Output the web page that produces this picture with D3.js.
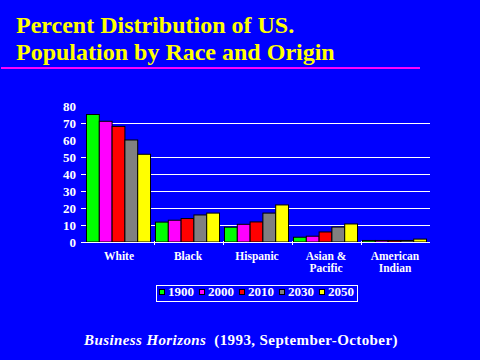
<!DOCTYPE html>
<html>
<head>
<meta charset="utf-8">
<script src="https://cdn.jsdelivr.net/npm/d3@7"></script>
<style>
  body { margin: 0; background: #0000ff; }
  svg { display: block; }
  text { font-family: "Liberation Serif", "Times New Roman", serif; font-weight: bold; }
</style>
</head>
<body>
<div id="chart"></div>
<script>
// data
var categories = ["White", "Black", "Hispanic", "Asian & Pacific", "American Indian"];
var catLines = [["White"], ["Black"], ["Hispanic"], ["Asian &", "Pacific"], ["American", "Indian"]];
var years = ["1900", "2000", "2010", "2030", "2050"];
var colors = ["#00ff00", "#ff00ff", "#ff0000", "#808080", "#ffff00"];
var v1900 = [75, 11.7, 8.7, 2.8, 0.9];
var v2000 = [71, 12.8, 10.4, 3.4, 0.9];
var v2010 = [68, 13.8, 11.8, 5.9, 0.9];
var v2030 = [60, 15.9, 17, 8.8, 0.9];
var v2050 = [51.6, 17, 21.8, 10.6, 1.7];
var series = [v1900, v2000, v2010, v2030, v2050];
var yTicks = [0, 10, 20, 30, 40, 50, 60, 70, 80];
var gridValues = [10, 20, 30, 40, 50, 70];

var width = 480, height = 360;
var svg = d3.select("#chart").append("svg")
  .attr("width", width).attr("height", height);

svg.append("rect").attr("width", width).attr("height", height).attr("fill", "#0000ff");

// title
var title = svg.append("text")
  .attr("x", 16).attr("fill", "#ffff00")
  .style("font-size", "24px");
title.append("tspan").attr("x", 16).attr("y", 33).text("Percent Distribution of US.");
title.append("tspan").attr("x", 16).attr("y", 60).text("Population by Race and Origin");

svg.append("rect")
  .attr("x", 1).attr("y", 67).attr("width", 419).attr("height", 2)
  .attr("fill", "#ff00ff");

// scales
var x0 = d3.scaleBand().domain(categories).range([84.5, 429.5]);
var x1 = d3.scaleBand().domain(years).range([2, x0.bandwidth() - 3]);
var y = d3.scaleLinear().domain([0, 80]).range([242, 106]);

// gridlines
svg.append("g").selectAll("line").data(gridValues).join("line")
  .attr("x1", 81).attr("x2", 430)
  .attr("y1", d => Math.round(y(d)) + 0.5).attr("y2", d => Math.round(y(d)) + 0.5)
  .attr("stroke", "#ffffff").attr("stroke-width", 1);

// y axis labels
var yAxis = svg.append("g")
  .attr("transform", "translate(81,0)")
  .call(d3.axisLeft(y).tickValues(yTicks).tickSize(0).tickPadding(5));
yAxis.select(".domain").remove();
yAxis.selectAll("text")
  .attr("fill", "#ffffff")
  .style("font-size", "13px")
  .style("font-family", "'Liberation Serif', serif")
  .style("font-weight", "bold");

// bars
var groups = svg.append("g").selectAll("g").data(categories).join("g")
  .attr("transform", d => "translate(" + x0(d) + ",0)");
groups.selectAll("rect")
  .data((d, i) => years.map((yr, j) => ({ yr: yr, v: series[j][i], c: colors[j] })))
  .join("rect")
  .attr("x", d => x1(d.yr))
  .attr("y", d => y(d.v))
  .attr("width", x1.bandwidth())
  .attr("height", d => y(0) - y(d.v))
  .attr("fill", d => d.c)
  .attr("stroke", "#000000")
  .attr("stroke-width", 1);

// baseline + category ticks
svg.append("line")
  .attr("x1", 81).attr("x2", 430).attr("y1", 242.5).attr("y2", 242.5)
  .attr("stroke", "#ffffff");
svg.append("g").selectAll("line").data(categories.slice(1)).join("line")
  .attr("x1", d => Math.round(x0(d)) + 0.5).attr("x2", d => Math.round(x0(d)) + 0.5)
  .attr("y1", 241).attr("y2", 245)
  .attr("stroke", "#ffffff");

// category labels
var catText = svg.append("g").selectAll("text").data(categories).join("text")
  .attr("text-anchor", "middle")
  .attr("fill", "#ffffff")
  .style("font-size", "11.5px");
catText.each(function (d, i) {
  var t = d3.select(this);
  var cx = x0(d) + x0.bandwidth() / 2;
  catLines[i].forEach((ln, k) => {
    t.append("tspan").attr("x", cx).attr("y", 260 + k * 12).text(ln);
  });
});

// legend
var legend = svg.append("g");
legend.append("rect")
  .attr("x", 156.5).attr("y", 285.5).attr("width", 201).attr("height", 16)
  .attr("fill", "none").attr("stroke", "#ffffff");
var legItems = legend.selectAll("g").data(years).join("g")
  .attr("transform", (d, i) => "translate(" + (159.5 + i * 40) + ",0)");
legItems.append("rect")
  .attr("x", 0).attr("y", 289.5).attr("width", 5).attr("height", 5)
  .attr("fill", (d, i) => colors[i]).attr("stroke", "#000000");
legItems.append("text")
  .attr("x", 8.5).attr("y", 296)
  .attr("fill", "#ffffff")
  .style("font-size", "13px")
  .text(d => d);

// source
var src = svg.append("text")
  .attr("x", 84).attr("y", 345)
  .attr("fill", "#ffffff")
  .style("font-size", "15px")
  .style("letter-spacing", "0.4px");
src.append("tspan").style("font-style", "italic").text("Business Horizons");
src.append("tspan").attr("dx", 8).text("(1993, September-October)");
</script>
</body>
</html>
